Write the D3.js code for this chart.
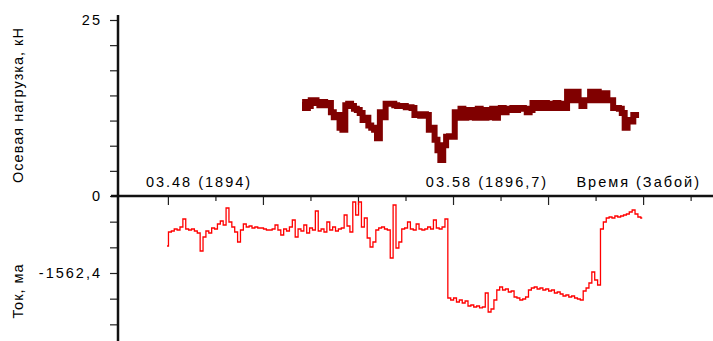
<!DOCTYPE html>
<html>
<head>
<meta charset="utf-8">
<script src="https://cdn.jsdelivr.net/npm/d3@7"></script>
<style>
  body { margin: 0; background: #fff; }
  text { font-family: "Liberation Sans", Arial, sans-serif; font-size: 14.5px; fill: #000; letter-spacing: 2px; }
</style>
</head>
<body>
<svg id="chart" width="713" height="341"></svg>
<script>
// time axis (minutes after 03:00), readings every 0.1 min
const loadStart = 51.58;
const loadStep = 0.1;
const loadValues = [
  13.35, 12.5, 12.8, 13.6, 13.6, 13.2, 12.9, 13.35, 12.9, 13.2,
  11.9, 11.2, 11.5, 9.7, 9.4, 12.9, 13.1, 12.8, 12.4, 12.2,
  11.8, 10.8, 11.1, 10.0, 9.7, 9.4, 8.2, 11.9, 11.2, 13.1,
  13.1, 13.1, 12.9, 12.8, 12.8, 12.8, 12.6, 12.6, 12.5, 11.5,
  11.6, 11.4, 11.6, 11.5, 9.4, 9.7, 8.0, 6.5, 5.1, 7.2,
  8.4, 8.5, 8.4, 11.9, 11.1, 12.4, 11.1, 12.2, 11.2, 12.2,
  11.1, 12.4, 11.9, 11.1, 12.2, 11.2, 12.4, 11.1, 12.2, 12.5,
  11.9, 12.2, 12.4, 12.5, 12.2, 12.4, 12.5, 12.4, 11.9, 12.2,
  13.2, 12.5, 13.2, 12.5, 13.2, 12.5, 13.1, 12.5, 13.2, 12.5,
  13.1, 12.5, 14.8, 13.9, 13.6, 14.8, 13.6, 12.8, 13.6, 13.6,
  14.8, 13.6, 14.8, 13.6, 13.6, 14.6, 13.6, 13.6, 12.5, 12.5,
  12.4, 11.8, 9.7, 10.8, 10.6, 11.5, 11.5, 11.5
];

const currentStart = 46.89;
const currentStep = 0.1;
const currentValues = [
  -1015, -730, -710, -670, -690, -629, -467, -670, -690, -670,
  -710, -751, -1116, -832, -710, -751, -649, -670, -568, -507,
  -588, -243, -528, -629, -730, -933, -690, -568, -629, -609,
  -649, -629, -649, -649, -670, -690, -690, -670, -588, -690,
  -791, -670, -710, -629, -487, -832, -670, -710, -588, -751,
  -649, -690, -304, -710, -670, -730, -528, -690, -629, -710,
  -670, -649, -386, -609, -730, -122, -386, -122, -629, -446,
  -852, -1035, -933, -690, -649, -629, -670, -690, -1258, -183,
  -1055, -933, -670, -649, -528, -670, -690, -568, -670, -690,
  -670, -629, -670, -487, -649, -670, -629, -467, -2070, -2110,
  -2070, -2151, -2110, -2171, -2131, -2232, -2212, -2252, -2232, -2272,
  -2252, -1968, -2354, -2293, -2110, -1907, -1846, -1907, -1887, -1948,
  -1928, -2049, -2070, -2110, -2090, -2049, -1907, -1867, -1846, -1887,
  -1867, -1907, -1887, -1928, -1907, -1968, -1948, -1989, -2029, -2009,
  -2049, -2029, -2070, -2090, -2110, -1928, -1867, -1765, -1542, -1704,
  -1806, -670, -528, -446, -426, -446, -406, -426, -406, -386,
  -365, -325, -284, -365, -426, -446
];

const loadTicks = d3.range(8).map(i => i * 25 / 7);
const loadTickLabels = { 0: "0", 7: "25" };
const currentTicks = d3.range(1, 6).map(i => -520.8 * i);
const currentTickLabels = { 2: "-1562,4" };
const timeTicks = d3.range(12).map(i => 46.92 + 1.65 * i);
const timeLabelValues = [48, 58];
const timeLabelTexts = ["03.48 (1894)", "03.58 (1896,7)"];
const xTitle = "Время (Забой)";
const loadTitle = "Осевая нагрузка, кН";
const currentTitle = "Ток, ма";

const svg = d3.select("#chart");
const axisX = 118, zeroY = 196;

const x = d3.scaleLinear().domain([45.1875, 65.847]).range([axisX, 713]);
const yLoad = d3.scaleLinear().domain([0, 25]).range([zeroY, 20]);
const yCur = d3.scaleLinear().domain([0, -1562.4]).range([zeroY, 273]);

// left axes
const gLoad = svg.append("g")
  .attr("transform", "translate(" + axisX + ",0)")
  .call(d3.axisLeft(yLoad).tickValues(loadTicks).tickSize(8).tickPadding(8)
    .tickFormat((d, i) => loadTickLabels[i] || ""));
const gCur = svg.append("g")
  .attr("transform", "translate(" + axisX + ",0)")
  .call(d3.axisLeft(yCur).tickValues(currentTicks).tickSize(8).tickPadding(8)
    .tickFormat((d, i) => currentTickLabels[i] || ""));
[gLoad, gCur].forEach(g => {
  g.select(".domain").remove();
  g.selectAll(".tick line").attr("stroke", "#222").attr("stroke-width", 1.2);
  g.selectAll(".tick text").attr("font-size", null).attr("font-family", null);
});
svg.append("line")
  .attr("x1", axisX).attr("x2", axisX).attr("y1", 15).attr("y2", 341)
  .attr("stroke", "#111").attr("stroke-width", 2.5);

// time axis along zero
const gTime = svg.append("g")
  .attr("transform", "translate(0," + zeroY + ")")
  .call(d3.axisBottom(x).tickValues(timeTicks).tickSize(9).tickFormat(""));
gTime.select(".domain").remove();
gTime.selectAll(".tick line")
  .attr("y2", (d, i) => i % 2 ? 5 : 9)
  .attr("stroke", "#222").attr("stroke-width", 1.2);
svg.append("line")
  .attr("x1", 111).attr("x2", 713).attr("y1", zeroY).attr("y2", zeroY)
  .attr("stroke", "#111").attr("stroke-width", 2.5);

svg.selectAll(".tlabel")
  .data(timeLabelValues)
  .enter().append("text")
  .attr("class", "tlabel")
  .attr("x", d => x(d)).attr("y", 187)
  .attr("text-anchor", "middle")
  .text((d, i) => timeLabelTexts[i]);
svg.append("text")
  .attr("x", 701).attr("y", 187)
  .attr("text-anchor", "end")
  .text(xTitle);

svg.append("text")
  .attr("transform", "translate(23,105) rotate(-90)")
  .attr("text-anchor", "middle")
  .style("letter-spacing", "1px")
  .text(loadTitle);
svg.append("text")
  .attr("transform", "translate(23,291) rotate(-90)")
  .attr("text-anchor", "middle")
  .style("letter-spacing", "1px")
  .text(currentTitle);

// series
const loadLine = d3.line()
  .x((d, i) => x(loadStart + i * loadStep))
  .y(d => yLoad(d))
  .curve(d3.curveStepAfter);
svg.append("path")
  .datum(loadValues)
  .attr("d", loadLine)
  .attr("fill", "none")
  .attr("stroke", "#800000")
  .attr("stroke-width", 6);

const currentLine = d3.line()
  .x((d, i) => x(currentStart + i * currentStep))
  .y(d => yCur(d))
  .curve(d3.curveStep);
svg.append("path")
  .datum(currentValues)
  .attr("d", currentLine)
  .attr("fill", "none")
  .attr("stroke", "#ff0000")
  .attr("stroke-width", 1.3);
</script>
</body>
</html>
